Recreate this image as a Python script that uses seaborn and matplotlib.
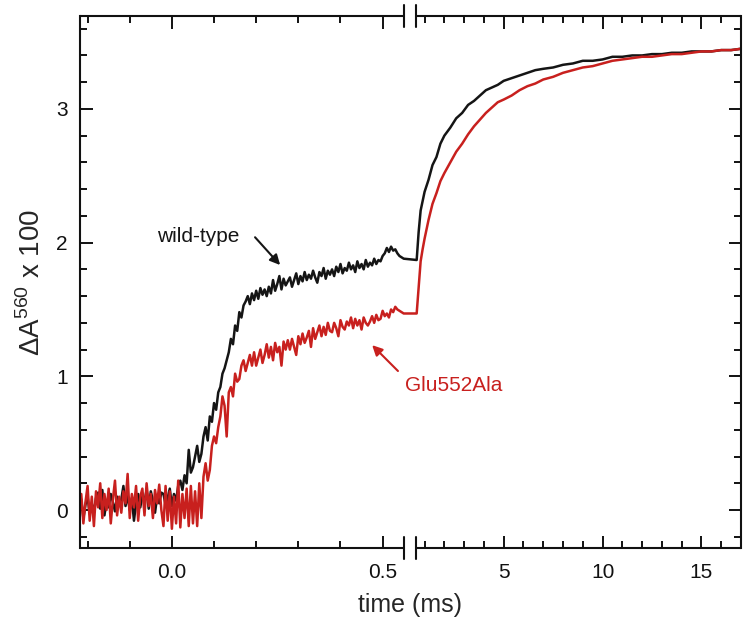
import numpy as np
import pandas as pd
import matplotlib
matplotlib.use("Agg")
import matplotlib.pyplot as plt
import matplotlib.transforms as mtransforms
from matplotlib.ticker import FixedLocator, FixedFormatter
import seaborn as sns

# ---- data ----
# fast phase (left of the axis break), ms
t_fast = [-0.220, -0.215, -0.210, -0.205, -0.200, -0.195, -0.190, -0.185, -0.180, -0.175,
          -0.170, -0.165, -0.160, -0.155, -0.150, -0.145, -0.140, -0.135, -0.130, -0.125,
          -0.120, -0.115, -0.110, -0.105, -0.100, -0.095, -0.090, -0.085, -0.080, -0.075,
          -0.070, -0.065, -0.060, -0.055, -0.050, -0.045, -0.040, -0.035, -0.030, -0.025,
          -0.020, -0.015, -0.010, -0.005, 0.000, 0.005, 0.010, 0.015, 0.020, 0.025,
          0.030, 0.035, 0.040, 0.045, 0.050, 0.055, 0.060, 0.065, 0.070, 0.075,
          0.080, 0.085, 0.090, 0.095, 0.100, 0.105, 0.110, 0.115, 0.120, 0.125,
          0.130, 0.135, 0.140, 0.145, 0.150, 0.155, 0.160, 0.165, 0.170, 0.175,
          0.180, 0.185, 0.190, 0.195, 0.200, 0.205, 0.210, 0.215, 0.220, 0.225,
          0.230, 0.235, 0.240, 0.245, 0.250, 0.255, 0.260, 0.265, 0.270, 0.275,
          0.280, 0.285, 0.290, 0.295, 0.300, 0.305, 0.310, 0.315, 0.320, 0.325,
          0.330, 0.335, 0.340, 0.345, 0.350, 0.355, 0.360, 0.365, 0.370, 0.375,
          0.380, 0.385, 0.390, 0.395, 0.400, 0.405, 0.410, 0.415, 0.420, 0.425,
          0.430, 0.435, 0.440, 0.445, 0.450, 0.455, 0.460, 0.465, 0.470, 0.475,
          0.480, 0.485, 0.490, 0.495, 0.500, 0.505, 0.510, 0.515, 0.520, 0.525,
          0.530, 0.535, 0.540, 0.545, 0.550]

wt_fast = [0.02, 0.08, -0.06, 0.04, 0.10, -0.03, 0.05, -0.02, 0.09, 0.13,
           0.01, 0.15, -0.04, 0.07, 0.02, 0.12, 0.06, -0.01, 0.10, 0.04,
           0.08, 0.18, 0.03, 0.11, 0.00, 0.09, -0.08, 0.05, 0.12, 0.02,
           0.11, 0.06, 0.15, 0.01, 0.14, 0.07, -0.02, 0.10, 0.05, 0.13,
           0.12, 0.04, 0.09, 0.16, 0.03, 0.12, 0.07, 0.18, 0.22, 0.15,
           0.26, 0.20, 0.45, 0.28, 0.32, 0.40, 0.48, 0.36, 0.42, 0.55,
           0.62, 0.52, 0.70, 0.66, 0.80, 0.75, 0.88, 0.92, 1.02, 1.06,
           1.12, 1.18, 1.28, 1.24, 1.38, 1.34, 1.48, 1.44, 1.53, 1.56,
           1.60, 1.54, 1.62, 1.57, 1.64, 1.58, 1.66, 1.61, 1.65, 1.60,
           1.67, 1.62, 1.72, 1.64, 1.69, 1.75, 1.65, 1.73, 1.68, 1.71,
           1.74, 1.67, 1.72, 1.77, 1.69, 1.75, 1.71, 1.78, 1.72, 1.76,
           1.73, 1.79, 1.74, 1.70, 1.78, 1.75, 1.81, 1.73, 1.79, 1.76,
           1.80, 1.75, 1.82, 1.78, 1.84, 1.77, 1.81, 1.79, 1.85, 1.80,
           1.83, 1.78, 1.86, 1.81, 1.84, 1.80, 1.87, 1.82, 1.85, 1.83,
           1.88, 1.84, 1.87, 1.86, 1.90, 1.92, 1.96, 1.93, 1.97, 1.94,
           1.95, 1.92, 1.90, 1.89, 1.88]

mut_fast = [-0.05, 0.12, -0.10, 0.06, 0.18, -0.08, 0.10, -0.12, 0.14, 0.02,
            0.20, -0.06, 0.12, 0.00, 0.16, -0.10, 0.08, 0.22, -0.04, 0.10,
            -0.02, 0.14, 0.05, 0.27, -0.06, 0.12, 0.02, 0.18, -0.08, 0.10,
            0.16, -0.04, 0.20, 0.03, 0.12, -0.06, 0.15, 0.05, 0.19, 0.00,
            -0.12, 0.18, -0.08, 0.14, -0.14, 0.10, -0.10, 0.22, -0.13, 0.12,
            -0.06, 0.16, -0.12, 0.18, -0.10, 0.14, -0.12, 0.20, -0.06, 0.25,
            0.35, 0.22, 0.30, 0.48, 0.55, 0.50, 0.62, 0.70, 0.85, 0.78,
            0.55, 0.88, 0.92, 0.85, 1.02, 0.96, 0.98, 1.08, 1.12, 1.04,
            1.10, 1.16, 1.08, 1.18, 1.08, 1.14, 1.20, 1.10, 1.16, 1.24,
            1.14, 1.22, 1.12, 1.25, 1.18, 1.22, 1.08, 1.26, 1.20, 1.27,
            1.20, 1.28, 1.22, 1.16, 1.30, 1.24, 1.32, 1.25, 1.29, 1.34,
            1.22, 1.36, 1.28, 1.33, 1.38, 1.30, 1.37, 1.31, 1.40, 1.34,
            1.33, 1.40, 1.36, 1.30, 1.42, 1.37, 1.35, 1.41, 1.38, 1.44,
            1.36, 1.43, 1.38, 1.42, 1.35, 1.44, 1.40, 1.38, 1.41, 1.45,
            1.40, 1.46, 1.42, 1.43, 1.49, 1.45, 1.47, 1.44, 1.50, 1.48,
            1.52, 1.50, 1.49, 1.48, 1.47]

# slow phase (right of the axis break), ms
t_slow = [0.6, 0.7, 0.8, 0.9, 1.0, 1.2, 1.4, 1.6, 1.8, 2.0,
          2.3, 2.6, 2.9, 3.2, 3.5, 3.8, 4.1, 4.4, 4.7, 5.0,
          5.4, 5.8, 6.2, 6.6, 7.0, 7.5, 8.0, 8.5, 9.0, 9.5,
          10.0, 10.5, 11.0, 11.5, 12.0, 12.5, 13.0, 13.5, 14.0, 14.5,
          15.0, 15.5, 16.0, 16.5, 17.0]

wt_slow = [1.87, 2.08, 2.24, 2.31, 2.38, 2.47, 2.58, 2.64, 2.74, 2.80,
           2.86, 2.93, 2.97, 3.03, 3.06, 3.10, 3.14, 3.16, 3.18, 3.21,
           3.23, 3.25, 3.27, 3.29, 3.30, 3.31, 3.33, 3.34, 3.36, 3.36,
           3.37, 3.39, 3.39, 3.40, 3.40, 3.41, 3.41, 3.42, 3.42, 3.43,
           3.43, 3.43, 3.44, 3.44, 3.45]

mut_slow = [1.47, 1.66, 1.86, 1.95, 2.03, 2.17, 2.29, 2.37, 2.46, 2.52,
            2.60, 2.68, 2.74, 2.81, 2.87, 2.92, 2.97, 3.01, 3.05, 3.07,
            3.10, 3.14, 3.17, 3.19, 3.22, 3.24, 3.27, 3.29, 3.31, 3.32,
            3.34, 3.36, 3.37, 3.38, 3.39, 3.39, 3.40, 3.41, 3.41, 3.42,
            3.43, 3.43, 3.44, 3.44, 3.45]

variants = ['wild-type', 'Glu552Ala']
colors = {'wild-type': '#151515', 'Glu552Ala': '#c8201e'}

x_major = [0.0, 0.5, 5, 10, 15]
x_major_labels = ['0.0', '0.5', '5', '10', '15']
x_minor = [-0.2, -0.1, 0.1, 0.2, 0.3, 0.4, 1, 2, 3, 4, 6, 7, 8, 9,
           11, 12, 13, 14, 16]

# long-form table for seaborn
df = pd.DataFrame({
    'time': t_fast + t_slow + t_fast + t_slow,
    'dA': wt_fast + wt_slow + mut_fast + mut_slow,
    'variant': [variants[0]] * (len(t_fast) + len(t_slow))
               + [variants[1]] * (len(t_fast) + len(t_slow)),
})

# ---- broken time axis: 0.55 ms is the break ----
BREAK = 0.55
GAP = 12 / 422        # gap width, in fast-axis units
RATIO = 19.8 / 422    # slow segment compression


def fwd(x):
    x = np.asarray(x, dtype=float)
    return np.where(x <= BREAK, x, BREAK + GAP + (x - BREAK) * RATIO)


def inv(y):
    y = np.asarray(y, dtype=float)
    return np.where(y <= BREAK, y,
                    np.where(y < BREAK + GAP, BREAK, BREAK + (y - BREAK - GAP) / RATIO))


sns.set_style("ticks")
plt.rcParams['font.family'] = ['Liberation Sans', 'DejaVu Sans']
plt.rcParams['mathtext.fontset'] = 'custom'
plt.rcParams['mathtext.rm'] = 'Liberation Sans'

fig = plt.figure(figsize=(7.5, 6.42), dpi=100)
ax = fig.add_axes([80 / 750, 1 - 548 / 642, 661 / 750, 532 / 642])

sns.lineplot(data=df, x='time', y='dA', hue='variant', palette=colors,
             estimator=None, sort=False, legend=False, linewidth=1.8, ax=ax)

ax.set_xscale('function', functions=(fwd, inv))
xlo, xhi = -0.218, 17.0
ax.set_xlim(xlo, xhi)
ax.set_ylim(-0.284, 3.695)

ax.xaxis.set_major_locator(FixedLocator(x_major))
ax.xaxis.set_major_formatter(FixedFormatter(x_major_labels))
ax.xaxis.set_minor_locator(FixedLocator(x_minor))
ax.set_yticks([0, 1, 2, 3])
ax.set_yticklabels(['0', '1', '2', '3'])
ax.yaxis.set_minor_locator(FixedLocator([-0.2, 0.2, 0.4, 0.6, 0.8, 1.2, 1.4, 1.6, 1.8,
                                         2.2, 2.4, 2.6, 2.8, 3.2, 3.4, 3.6]))

ax.tick_params(which='both', direction='in', top=True, right=True, width=1.4,
               colors='#111111', labelsize=15)
ax.tick_params(which='major', length=9)
ax.tick_params(which='minor', length=5)
ax.tick_params(axis='x', which='major', pad=11)
ax.tick_params(axis='y', which='major', pad=9)

ax.set_xlabel('time (ms)', fontsize=18, labelpad=8)
ax.set_ylabel(r'ΔA$^{\mathrm{560}}$ x 100', fontsize=20, labelpad=7)

# spines: left/right normal, top/bottom drawn by hand with the break gap
for side in ['left', 'right']:
    ax.spines[side].set_linewidth(1.5)
    ax.spines[side].set_color('#111111')
ax.spines['top'].set_visible(False)
ax.spines['bottom'].set_visible(False)

trans = mtransforms.blended_transform_factory(ax.transData, ax.transAxes)
for yy in [0, 1]:
    ax.plot([xlo, BREAK], [yy, yy], transform=trans, color='#111111', lw=1.5,
            clip_on=False, solid_capstyle='butt')
    ax.plot([BREAK + 1e-6, xhi], [yy, yy], transform=trans, color='#111111', lw=1.5,
            clip_on=False, solid_capstyle='butt')
    for xb in [BREAK, BREAK + 1e-6]:
        ax.plot([xb, xb], [yy - 0.021, yy + 0.021], transform=trans, color='#111111',
                lw=1.5, clip_on=False)

# labels with arrows
ax.text(0.1785, 0.585, 'wild-type', transform=ax.transAxes, fontsize=15,
        ha='center', va='center', color='#151515')
ax.annotate('', xy=(0.3056, 0.528), xytext=(0.262, 0.588),
            xycoords='axes fraction', textcoords='axes fraction',
            arrowprops=dict(arrowstyle='-|>', color='#151515', lw=1.5,
                            mutation_scale=15))
ax.text(0.492, 0.306, 'Glu552Ala', transform=ax.transAxes, fontsize=15,
        ha='left', va='center', color='#c8201e')
ax.annotate('', xy=(0.439, 0.385), xytext=(0.484, 0.329),
            xycoords='axes fraction', textcoords='axes fraction',
            arrowprops=dict(arrowstyle='-|>', color='#c8201e', lw=1.5,
                            mutation_scale=15))

fig.savefig('out.png', dpi=100)
